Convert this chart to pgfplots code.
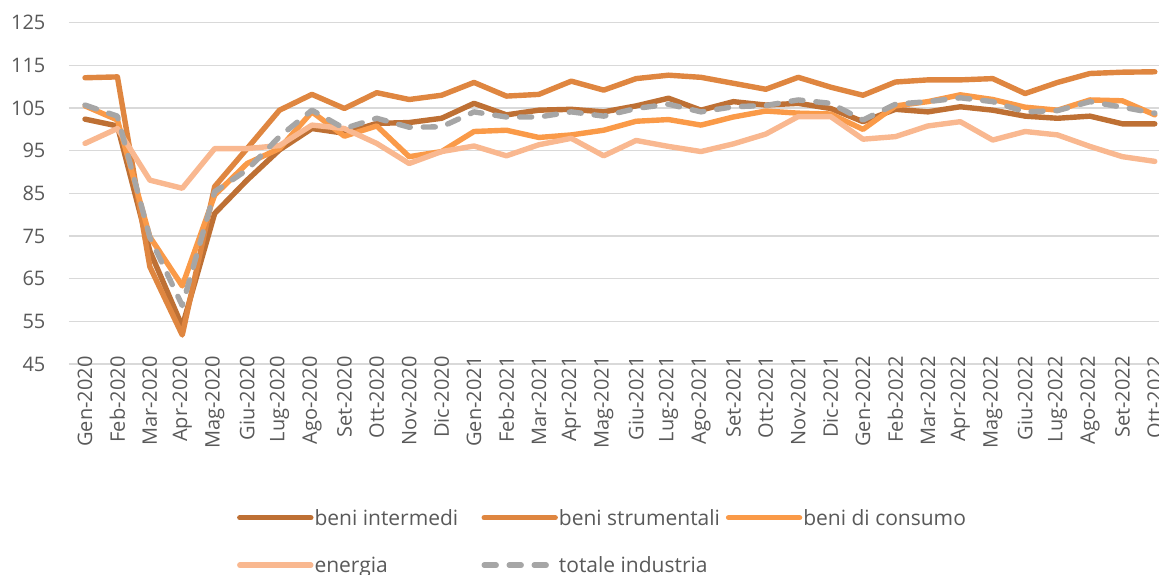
\documentclass[border=0pt]{standalone}
\usepackage{fontspec}
\setmainfont{Open Sans}
\usepackage{pgfplots}
\usepackage{pgfplotstable}
\pgfplotsset{compat=1.18}
\definecolor{cInt}{HTML}{BE7034}
\definecolor{cStr}{HTML}{DF8640}
\definecolor{cCon}{HTML}{FA9A48}
\definecolor{cEne}{HTML}{F9B890}
\definecolor{cTot}{HTML}{A6A6A6}
\definecolor{cGrid}{HTML}{D9D9D9}
\definecolor{cTxt}{HTML}{595959}

\pgfplotstableread{
i  int    str    con    ene    tot
0  102.4  112.1  105.5  96.7   105.7
1  100.8  112.3  102.2  100.2  103.1
2  71.5   67.8   74.8   88.1   74.7
3  53.8   51.8   63.3   86.2   58.7
4  80.3   86.6   84.6   95.5   85.4
5  88.1   95.5   92.0   95.5   90.5
6  95.2   104.5  95.5   96.2   98.3
7  100.2  108.2  104.1  101.0  104.5
8  99.1   104.9  98.4   100.2  100.2
9  101.4  108.6  100.8  96.7   102.6
10 101.6  107.0  93.6   92.0   100.5
11 102.6  108.0  94.8   94.8   100.6
12 106.1  111.0  99.5   96.1   104.1
13 103.4  107.8  99.8   93.8   102.9
14 104.5  108.2  98.1   96.4   102.9
15 104.7  111.3  98.7   97.9   104.1
16 104.1  109.2  99.8   93.8   103.1
17 105.5  111.9  101.9  97.4   104.9
18 107.3  112.7  102.3  96.0   105.9
19 104.5  112.2  101.0  94.8   104.1
20 106.5  110.8  102.9  96.6   105.3
21 105.7  109.4  104.3  98.9   105.6
22 106.1  112.2  103.8  103.0  106.9
23 104.9  109.9  103.6  103.0  106.1
24 101.8  108.0  100.0  97.7   102.2
25 104.7  111.1  105.5  98.3   105.9
26 104.1  111.6  106.5  100.8  106.5
27 105.3  111.6  108.1  101.8  107.4
28 104.5  111.9  107.0  97.5   106.5
29 103.1  108.4  105.2  99.5   104.1
30 102.6  111.0  104.5  98.7   104.4
31 103.1  113.1  106.9  96.0   106.5
32 101.3  113.4  106.7  93.6   105.2
33 101.3  113.5  103.4  92.5   103.8
}\datatable

\begin{document}
\begin{tikzpicture}
\useasboundingbox (0,0) rectangle (579.5pt,287pt);
\begin{axis}[
  at={(34.4pt,105pt)}, anchor=south west,
  scale only axis, width=545.1pt, height=170.65pt,
  xmin=-0.5, xmax=33.13, ymin=45, ymax=125,
  ytick={45,55,...,125},
  xtick={0,...,33},
  xticklabels={Gen-2020,Feb-2020,Mar-2020,Apr-2020,Mag-2020,Giu-2020,Lug-2020,Ago-2020,Set-2020,Ott-2020,Nov-2020,Dic-2020,
    Gen-2021,Feb-2021,Mar-2021,Apr-2021,Mag-2021,Giu-2021,Lug-2021,Ago-2021,Set-2021,Ott-2021,Nov-2021,Dic-2021,
    Gen-2022,Feb-2022,Mar-2022,Apr-2022,Mag-2022,Giu-2022,Lug-2022,Ago-2022,Set-2022,Ott-2022},
  axis line style={draw=none},
  major tick length=0pt,
  ymajorgrids, grid style={cGrid, line width=0.75pt},
  tick label style={font=\fontsize{10}{12}\selectfont, text=cTxt},
  xticklabel style={rotate=90, anchor=east, inner sep=0pt, xshift=4pt},
  yticklabel style={anchor=east, inner sep=0pt, xshift=-11.5pt},
  /pgf/number format/assume math mode=true,
  every axis plot/.append style={line width=2.7pt, line join=round, line cap=round},
  legend columns=3,
  legend cell align=left,
  legend image code/.code={\draw[#1] (0pt,0pt) -- (35.5pt,0pt);},
  legend style={at={(axis description cs:0.1540,-0.419)}, anchor=north west,
    draw=none, fill=none, inner sep=0pt, column sep=0pt, row sep=13.4pt,
    font=\fontsize{10.5}{12.6}\selectfont, text=cTxt,
    nodes={inner sep=0pt}},
]
\addplot[cInt] table[x=i,y=int]{\datatable};
\addlegendentry{\makebox[84pt][l]{\hspace{0.5pt}beni intermedi\strut}}
\addplot[cStr] table[x=i,y=str]{\datatable};
\addlegendentry{\makebox[84pt][l]{\hspace{0.5pt}beni strumentali\strut}}
\addplot[cCon] table[x=i,y=con]{\datatable};
\addlegendentry{\makebox[84pt][l]{\hspace{0.5pt}beni di consumo\strut}}
\addplot[cEne] table[x=i,y=ene]{\datatable};
\addlegendentry{\makebox[84pt][l]{\hspace{0.5pt}energia\strut}}
\addplot[cTot, dash pattern=on 6pt off 6.5pt] table[x=i,y=tot]{\datatable};
\addlegendentry{\makebox[84pt][l]{\hspace{0.5pt}totale industria\strut}}
\end{axis}
\end{tikzpicture}
\end{document}
